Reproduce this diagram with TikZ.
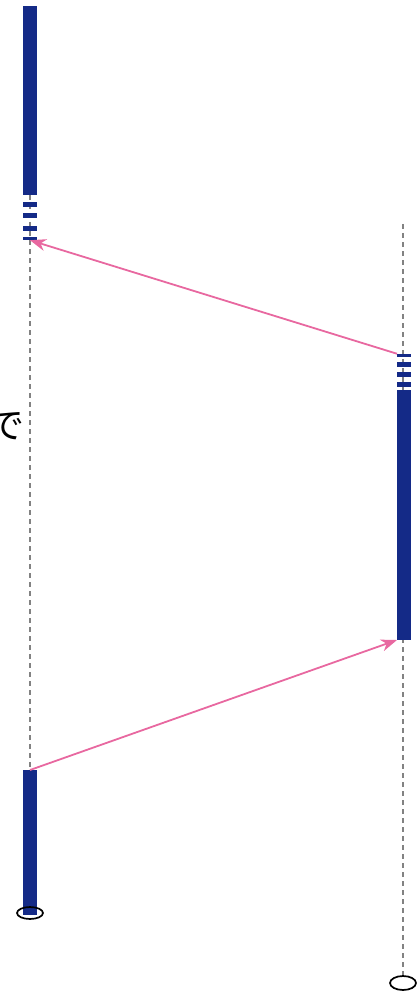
\documentclass[tikz,border=0pt]{standalone}
\usepackage{fontspec}
\newfontfamily\jpfont{Noto Sans CJK JP}
\usepackage{xcolor}
\usetikzlibrary{arrows.meta,shapes.geometric}
\definecolor{kbar}{RGB}{20,42,135}
\definecolor{kpink}{RGB}{232,104,160}
\definecolor{klife}{RGB}{130,130,130}

\begin{document}
\begin{tikzpicture}[x=1pt,y=-1pt]
\tikzstyle{bar}=[fill=kbar, draw=none, minimum width=14pt, inner sep=0pt, outer sep=0pt]
\tikzstyle{tick}=[bar, minimum height=5pt]
\tikzstyle{life}=[draw=klife, line width=1.3pt, dash pattern=on 5pt off 4pt]
\tikzstyle{msg}=[draw=kpink, line width=1.8pt, arrows={-Stealth[length=16pt, width=12pt, inset=5pt]}]
\tikzstyle{stopper}=[draw, line width=1.7pt, ellipse, inner sep=0pt, minimum width=26pt, minimum height=12pt]
\useasboundingbox (0,0) rectangle (419,992);

% left lifeline
\node[bar, minimum height=189pt] (lbar1) at (30,100.5) {};
\node[bar, minimum height=145pt] (lbar2) at (30,842.5) {};
\node[stopper] (lend) at (30,913) {};
\draw[life] (lbar1.south) -- (lbar2.north);
\node[tick] (lt1) at (30,204.5) {};
\node[tick] (lt2) at (30,216) {};
\node[tick] (lt3) at (30,228.5) {};
\node[tick, minimum height=3.5pt] (lt4) at (30,238.5) {};

% right lifeline
\coordinate (rtop) at (403,224);
\node[stopper, minimum height=14pt] (rend) at (403,983) {};
\draw[life] (rtop) -- (rend.north);
\node[tick, minimum height=3.5pt] (rt1) at (404,355.5) {};
\node[tick] (rt2) at (404,364.5) {};
\node[tick] (rt3) at (404,374.5) {};
\node[tick] (rt4) at (404,384.5) {};
\node[bar, minimum height=250pt] (rbar) at (404,515) {};

% messages
\draw[msg] (rt1.north west) -- (lt4.south);
\draw[msg] (lbar2.north) -- (rbar.south west);

\node[font=\jpfont\fontsize{36}{36}\selectfont, inner sep=0pt] (label) at (7,426) {で};
\end{tikzpicture}
\end{document}
